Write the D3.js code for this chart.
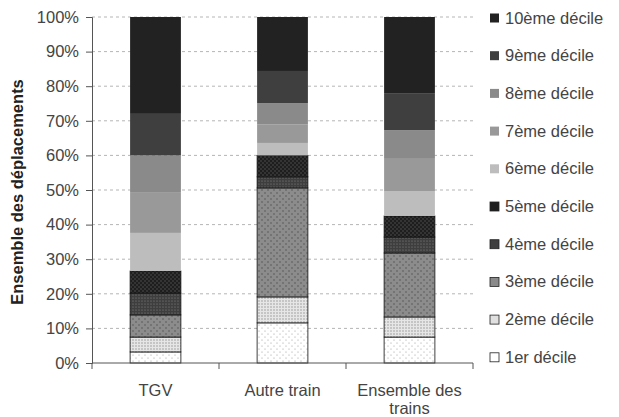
<!DOCTYPE html>
<html><head><meta charset="utf-8">
<script src="https://cdn.jsdelivr.net/npm/d3@7"></script>
<style>body{margin:0;background:#fff}svg{display:block}text{font-family:"Liberation Sans",Arial,sans-serif}</style>
</head><body><svg id="c" width="619" height="417"></svg>
<script>
const categories = ["TGV", "Autre train", "Ensemble des trains"];
const deciles = ["1er décile","2ème décile","3ème décile","4ème décile","5ème décile","6ème décile","7ème décile","8ème décile","9ème décile","10ème décile"];
const tgv      = [3.2, 4.3, 6.4, 6.3, 6.4, 11.0, 11.8, 10.6, 12.0, 28.0];
const autre    = [11.6, 7.5, 31.5, 3.2, 6.2, 3.6, 5.4, 6.1, 9.3, 15.6];
const ensemble = [7.5, 5.8, 18.5, 4.6, 6.1, 7.2, 9.3, 8.3, 10.7, 22.0];
const yTicks = [0,10,20,30,40,50,60,70,80,90,100];

const series = [tgv, autre, ensemble];
const svg = d3.select("#c");
const m = {l:92, r:146, t:17, b:54};
const W = 619, H = 417;
const FS = 16.5;
const x = d3.scaleBand().domain(categories).range([m.l, W - m.r]).padding(0);
const y = d3.scaleLinear().domain([0,100]).range([H - m.b, m.t]);

// patterns
const defs = svg.append("defs");
function pat(id, bg, dot, size, r, offset){
  const p = defs.append("pattern").attr("id", id).attr("patternUnits","userSpaceOnUse").attr("width", size).attr("height", size);
  p.append("rect").attr("width", size).attr("height", size).attr("fill", bg);
  p.append("circle").attr("cx", 1).attr("cy", 1).attr("r", r).attr("fill", dot);
  if (offset) p.append("circle").attr("cx", 1+size/2).attr("cy", 1+size/2).attr("r", r).attr("fill", dot);
}
pat("p1", "#ffffff", "#9a9a9a", 6, 0.6, true);
pat("p2", "#e6e6e6", "#8a8a8a", 3, 0.7, false);
pat("p3", "#8c8c8c", "#555555", 6, 0.8, true);
pat("p4", "#3e3e3e", "#8a8a8a", 3, 0.6, false);
pat("p5", "#1e1e1e", "#5a5a5a", 4, 0.7, true);
const fills = ["url(#p1)","url(#p2)","url(#p3)","url(#p4)","url(#p5)","#bdbdbd","#999999","#8a8a8a","#3f3f3f","#222222"];
const legendFills = ["#ffffff","#e0e0e0","#8a8a8a","#3e3e3e","#1e1e1e","#bdbdbd","#999999","#8a8a8a","#3f3f3f","#222222"];
const stroked = [true,true,true,true,true,false,false,false,false,false];

// grid
svg.append("g").selectAll("line").data(yTicks.slice(1)).join("line")
  .attr("x1", m.l).attr("x2", W - m.r).attr("y1", d=>y(d)).attr("y2", d=>y(d))
  .attr("stroke", "#b5b5b5").attr("stroke-width", 1).attr("stroke-dasharray", "3,3");

// bars
const bw = x.bandwidth()*0.4;
categories.forEach((c, ci) => {
  let cum = 0;
  const g = svg.append("g");
  series[ci].forEach((v, di) => {
    const y0 = cum, y1 = cum + v; cum = y1;
    g.append("rect")
      .attr("x", x(c) + (x.bandwidth()-bw)/2).attr("width", bw)
      .attr("y", y(y1)).attr("height", y(y0) - y(y1))
      .attr("fill", fills[di])
      .attr("stroke", stroked[di] ? "#111" : "none").attr("stroke-width", 0.8);
  });
});

// y axis
const ya = svg.append("g").attr("transform", `translate(${m.l},0)`)
  .call(d3.axisLeft(y).tickValues(yTicks).tickFormat(d=>d+"%").tickSize(6).tickPadding(7));
ya.select(".domain").attr("stroke", "#555");
ya.selectAll(".tick line").attr("stroke", "#555");
ya.selectAll(".tick text").attr("font-size", FS).attr("fill", "#444").attr("font-family", "Liberation Sans, Arial, sans-serif");

// x axis
const xa = svg.append("g").attr("transform", `translate(0,${H - m.b})`);
xa.append("line").attr("x1", m.l).attr("x2", W - m.r).attr("stroke", "#555");
const bounds = categories.map(c=>x(c)).concat([x(categories[2]) + x.bandwidth()]);
xa.selectAll(".tk").data(bounds).join("line").attr("class","tk")
  .attr("x1", d=>d).attr("x2", d=>d).attr("y1", 0).attr("y2", 6).attr("stroke", "#555");
const xl = [["TGV"],["Autre train"],["Ensemble des","trains"]];
categories.forEach((c, i) => {
  const t = xa.append("text").attr("x", x(c) + x.bandwidth()/2).attr("y", 33)
    .attr("text-anchor","middle").attr("font-size", FS).attr("fill", "#444");
  xl[i].forEach((s, k) => t.append("tspan").attr("x", x(c) + x.bandwidth()/2).attr("dy", k ? 18 : 0).text(s));
});

// y title
svg.append("text").attr("transform", `translate(23,${(y(0)+y(100))/2 + 2}) rotate(-90)`)
  .attr("text-anchor","middle").attr("font-size", FS).attr("font-weight","bold").attr("fill","#222")
  .text("Ensemble des déplacements");

// legend
const lg = svg.append("g");
const order = d3.range(9, -1, -1);
order.forEach((di, k) => {
  const yy = 18 + k*37.7;
  lg.append("rect").attr("x", 490).attr("y", yy-4.5).attr("width", 9).attr("height", 9)
    .attr("fill", legendFills[di]).attr("stroke", stroked[di] ? "#222" : "none").attr("stroke-width", 0.8);
  lg.append("text").attr("x", 505).attr("y", yy+5.5).attr("font-size", FS).attr("fill", "#444").text(deciles[di]);
});
</script></body></html>
